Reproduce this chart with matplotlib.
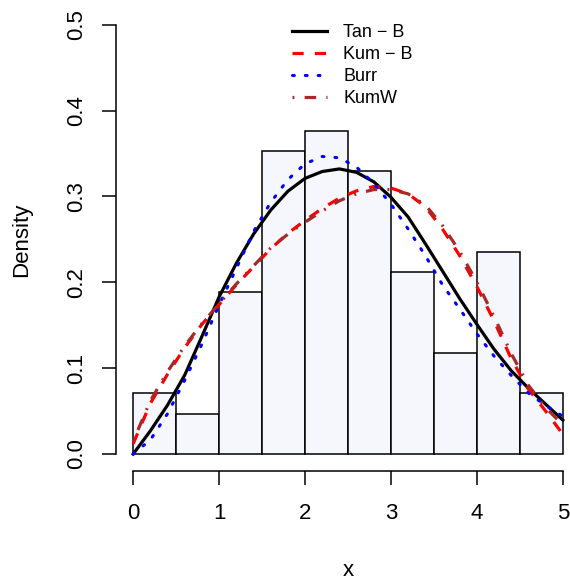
"""
Histogram of the data with four fitted densities (Tan-B, Kum-B, Burr, KumW), R base-graphics look.
"""
import numpy as np
import matplotlib
matplotlib.use('Agg')
import matplotlib.pyplot as plt

# ── Data ──────────────────────────────────────────────────────────────────────
bin_edges  = [0.0, 0.5, 1.0, 1.5, 2.0, 2.5, 3.0, 3.5, 4.0, 4.5, 5.0]
bin_counts = [3, 2, 8, 15, 16, 14, 9, 5, 10, 3]

x_grid = [0.0, 0.2, 0.4, 0.6, 0.8, 1.0, 1.2, 1.4, 1.6, 1.8, 2.0, 2.2, 2.4,
          2.6, 2.8, 3.0, 3.2, 3.4, 3.6, 3.8, 4.0, 4.2, 4.4, 4.6, 4.8, 5.0]
tan_b  = [0.000, 0.027, 0.057, 0.092, 0.137, 0.183, 0.222, 0.256, 0.284, 0.306,
          0.321, 0.329, 0.332, 0.328, 0.317, 0.299, 0.276, 0.245, 0.213, 0.181,
          0.151, 0.122, 0.097, 0.0766, 0.058, 0.0396]
kum_b  = [0.012, 0.059, 0.093, 0.124, 0.151, 0.174, 0.197, 0.218, 0.239, 0.257,
          0.272, 0.286, 0.298, 0.3065, 0.3115, 0.3097, 0.303, 0.288, 0.262, 0.231,
          0.195, 0.155, 0.111, 0.0755, 0.050, 0.023]
burr   = [0.000, 0.0165, 0.047, 0.086, 0.128, 0.1737, 0.216, 0.259, 0.293, 0.3195,
          0.338, 0.3465, 0.345, 0.334, 0.315, 0.291, 0.262, 0.231, 0.197, 0.169,
          0.140, 0.114, 0.0915, 0.071, 0.0565, 0.044]
kum_w  = [0.015, 0.062, 0.096, 0.126, 0.152, 0.175, 0.198, 0.219, 0.240, 0.256,
          0.270, 0.283, 0.295, 0.303, 0.308, 0.308, 0.303, 0.290, 0.266, 0.236,
          0.200, 0.160, 0.117, 0.080, 0.054, 0.034]

x_ticks = [0, 1, 2, 3, 4, 5]
y_ticks = [0.0, 0.1, 0.2, 0.3, 0.4, 0.5]

# ── Figure ────────────────────────────────────────────────────────────────────
plt.rcParams['font.family'] = ['Liberation Sans', 'DejaVu Sans']
W, H = 570, 581
fig = plt.figure(figsize=(W / 100, H / 100), dpi=100)
# plot region in pixels (R-like 4% padding around the data range)
left, right, top, bottom = 116, 580, 7.5, 471.2
ax = fig.add_axes([left / W, 1 - bottom / H, (right - left) / W, (bottom - top) / H])
ax.set_xlim(-0.2, 5.2)
ax.set_ylim(-0.02, 0.52)

widths = np.diff(bin_edges)
dens = np.array(bin_counts) / (sum(bin_counts) * widths)
ax.bar(bin_edges[:-1], dens, width=widths, align='edge',
       color='#F6F7FD', edgecolor='black', linewidth=1.1, zorder=1)

ax.plot(x_grid, tan_b, color='black', lw=2.3, label='Tan \u2212 B', zorder=3)
ax.plot(x_grid, kum_b, color='#FF0000', lw=2.3, dashes=(3.5, 3.5), label='Kum \u2212 B', zorder=3)
ax.plot(x_grid, burr, color='#0000FF', lw=2.2, dashes=(0.6, 3.6),
        dash_capstyle='round', label='Burr', zorder=3)
ax.plot(x_grid, kum_w, color='#A52A2A', lw=2.3, dashes=(0.6, 3.2, 3.6, 3.2),
        label='KumW', zorder=3)

# R-style axes
for s in ('top', 'right'):
    ax.spines[s].set_visible(False)
ax.spines['bottom'].set_bounds(0, 5)
ax.spines['left'].set_bounds(0, 0.5)
for s in ('bottom', 'left'):
    ax.spines[s].set_linewidth(1.1)
ax.set_xticks(x_ticks)
ax.set_xticklabels([str(v) for v in x_ticks])
ax.set_yticks(y_ticks)
ax.set_yticklabels([f'{v:.1f}' for v in y_ticks], rotation=90, va='center')
ax.tick_params(axis='both', direction='out', length=10, width=1.1, labelsize=16)
ax.tick_params(axis='x', pad=13)
ax.tick_params(axis='y', pad=11)

ax.set_xlabel('x', fontsize=16)
ax.set_ylabel('Density', fontsize=16)
ax.xaxis.set_label_coords(0.5, (bottom - 570) / (bottom - top))
ax.xaxis.label.set_va('center')
ax.yaxis.set_label_coords((22 - left) / (right - left), 0.5)
ax.yaxis.label.set_va('center')

ax.legend(loc='upper left', bbox_to_anchor=(292 / W, 1 - 24 / H),
          bbox_transform=fig.transFigure, frameon=False, fontsize=13,
          handlelength=1.95, handletextpad=0.9, labelspacing=0.28,
          borderpad=0, borderaxespad=0)

fig.savefig('out.png', dpi=100)
